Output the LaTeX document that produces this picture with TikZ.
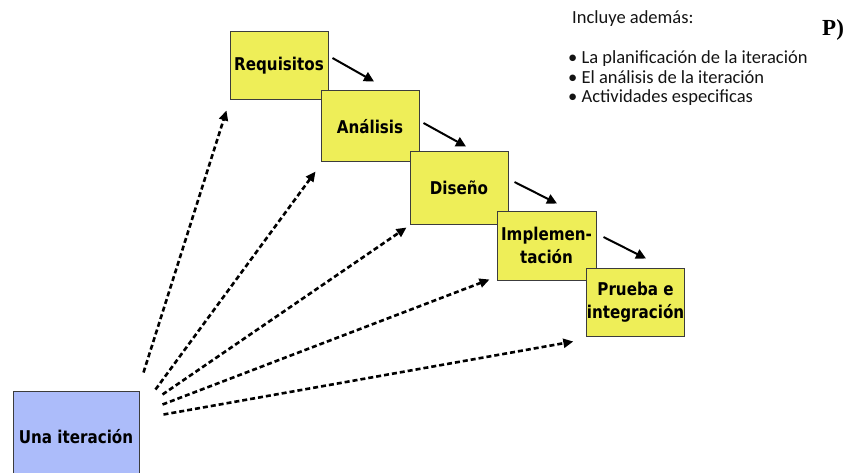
\documentclass[tikz,border=0pt]{standalone}
\usepackage{fontspec}
\setmainfont{DejaVu Sans}
\newfontfamily\boxfont{DejaVu Sans}[FakeStretch=0.86]
\newfontfamily\notefont{Carlito}
\newfontfamily\pfont{Liberation Serif}
\usetikzlibrary{arrows.meta,calc}
\definecolor{boxyellow}{RGB}{238,238,88}
\definecolor{boxblue}{RGB}{172,188,250}
\definecolor{edgegray}{RGB}{60,60,60}
\definecolor{notegray}{RGB}{20,20,20}
\begin{document}
\begin{tikzpicture}[x=1pt,y=-1pt,
  stage/.style={draw=edgegray, line width=1pt, fill=boxyellow, inner sep=0pt,
    align=center, font=\boxfont\fontsize{17.6}{23}\selectfont\bfseries},
  iterbox/.style={draw=edgegray, line width=1pt, fill=boxblue, inner sep=0pt,
    align=center, font=\boxfont\fontsize{17.6}{22}\selectfont\bfseries},
  flow/.style={draw=black, line width=2pt, -{Triangle[length=10pt,width=10pt]}},
  iterflow/.style={draw=black, line width=2.6pt, dash pattern=on 5pt off 3pt,
    -{Triangle[length=10pt,width=9pt]}},
  note/.style={inner sep=0pt, anchor=base west, text=notegray,
    font=\notefont\fontsize{18.5}{20}\selectfont}
]
\useasboundingbox[fill=white] (0,0) rectangle (850,473);

% stages
\node[stage, minimum width=98pt, minimum height=68pt] (req) at (279,66) {Requisitos};
\node[stage, minimum width=98pt, minimum height=71pt] (ana) at (370,126.5) {Análisis};
\node[stage, minimum width=98pt, minimum height=72pt] (dis) at (459,188) {Diseño};
\node[stage, minimum width=99pt, minimum height=69pt] (imp) at (546.5,245.5) {Implemen-\\tación};
\node[stage, minimum width=97pt, minimum height=68pt] (pru) at (635.5,302) {Prueba e\\integración};

% iteration box
\node[iterbox, minimum width=126pt, minimum height=92pt] (una) at (76,437) {Una iteración};

% solid flow arrows
\draw[flow] ($(req.east)+(4,-8)$) -- ($(ana.north)+(4,-9)$);
\draw[flow] ($(ana.east)+(4,-3.5)$) -- ($(dis.north)+(7,-5)$);
\draw[flow] ($(dis.east)+(6,-6)$) -- ($(imp.north)+(10.5,-7)$);
\draw[flow] ($(imp.east)+(7,-8.5)$) -- ($(pru.north)+(10.5,-9)$);

% dashed arrows from the iteration
\draw[iterflow] ($(una.north east)+(4,-18)$) -- ($(req.south west)+(-3,10)$);
\draw[iterflow] ($(una.north east)+(16,-1)$) -- ($(ana.south west)+(-5,9)$);
\draw[iterflow] ($(una.north east)+(23,4)$) -- ($(dis.south west)+(-3,3)$);
\draw[iterflow] ($(una.north east)+(23,14)$) -- ($(imp.south west)+(-7,-1)$);
\draw[iterflow] ($(una.north east)+(24,24)$) -- ($(pru.south west)+(-13,5)$);

% notes
\node[note] (title) at (572,24) {Incluye además:};
\node[note] (b1) at (568,64) {• La planificación de la iteración};
\node[note] (b2) at (568,83.5) {• El análisis de la iteración};
\node[note] (b3) at (568,103) {• Actividades especificas};
\node[inner sep=0pt, anchor=base west, font=\pfont\bfseries\fontsize{23}{25}\selectfont] (pmark) at (822,36) {P)};
\end{tikzpicture}
\end{document}
